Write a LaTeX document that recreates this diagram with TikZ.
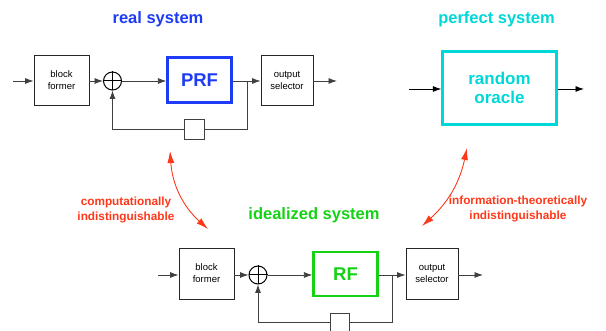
\documentclass[tikz,border=0pt]{standalone}
\usepackage{fontspec}
\setmainfont{Liberation Sans}
\usetikzlibrary{arrows.meta}
\definecolor{sysblue}{RGB}{30,60,245}
\definecolor{syscyan}{RGB}{0,215,215}
\definecolor{sysgreen}{RGB}{20,210,20}
\definecolor{sysred}{RGB}{255,55,25}
\tikzset{
  blk/.style={draw=black!85, line width=0.9pt, minimum width=#1, inner sep=0pt, align=center,
              font=\fontsize{9.5}{12}\selectfont},
  blk/.default=55pt,
  flow/.style={draw=black!75, line width=0.8pt, -{Latex[length=8.5pt,width=6pt]}},
  wire/.style={draw=black!75, line width=0.8pt},
  xorc/.style={draw=black, line width=1pt, circle, minimum size=18pt, inner sep=0pt},
  delay/.style={draw=black!75, line width=0.8pt, minimum size=20pt, inner sep=0pt, fill=white},
  title/.style={font=\fontsize{16.5}{18}\selectfont\bfseries},
  fbox/.style={line width=2.2pt, inner sep=0pt, font=\fontsize{18.5}{20}\selectfont\bfseries},
  rel/.style={draw=sysred, line width=0.9pt, {Latex[length=12pt,width=7pt]}-{Latex[length=12pt,width=7pt]}},
  rellabel/.style={text=sysred, align=center, font=\fontsize{11.8}{15}\selectfont\bfseries}
}
\begin{document}
\begin{tikzpicture}[x=1pt,y=-1pt]
\useasboundingbox (0,0) rectangle (606,331);

% ---- real system ----
\node[title, text=sysblue] (t1) at (158,19) {real system};
\coordinate (in1) at (13,81);
\node[blk, minimum height=50pt] (bf1) at (61.5,80) {block\\former};
\node[xorc] (x1) at (112.5,81) {};
\node[fbox, draw=sysblue, minimum width=64pt, minimum height=45pt, text=sysblue] (f1) at (199.5,80) {PRF};
\node[blk, minimum width=52pt, minimum height=50pt] (os1) at (287,80) {output\\selector};
\coordinate (out1) at (337,81);
\coordinate (j1) at (247,81);
\coordinate (c1a) at (247,129);
\coordinate (c1b) at (112.5,129);
\node[delay] (d1) at (194,129) {};
\draw[flow] (in1) -- (bf1.west |- in1);
\draw[flow] (bf1.east |- in1) -- (x1.west);
\draw[flow] (x1.east) -- (f1.west |- x1);
\draw[wire] (f1.east |- j1) -- (j1);
\draw[flow] (j1) -- (os1.west |- j1);
\draw[flow] (os1.east |- out1) -- (out1);
\draw[wire] (j1) -- (c1a) -- (d1.east);
\draw[flow] (d1.west) -- (c1b) -- (x1.south);
\draw[line width=1pt] (x1.north) -- (x1.south) (x1.west) -- (x1.east);

% ---- perfect system ----
\node[title, text=syscyan] (t2) at (496.5,19) {perfect system};
\node[draw=syscyan, line width=2.4pt, minimum width=114pt, minimum height=73pt, inner sep=0pt,
      text=syscyan, align=center, font=\fontsize{17}{18.5}\selectfont\bfseries] (ro) at (499.5,88) {random\\oracle};
\coordinate (in2) at (409,89);
\coordinate (out2) at (584,89);
\draw[flow, draw=black] (in2) -- (ro.west |- in2);
\draw[flow, draw=black] (ro.east |- out2) -- (out2);

% ---- idealized system ----
\node[title, text=sysgreen] (t3) at (314,215) {idealized system};
\coordinate (in3) at (158,275);
\node[blk, minimum height=51pt] (bf3) at (206.5,273.5) {block\\former};
\node[xorc] (x3) at (258,275) {};
\node[fbox, draw=sysgreen, minimum width=64pt, minimum height=44pt, text=sysgreen] (f3) at (345.5,274) {RF};
\node[blk, minimum width=52pt, minimum height=51pt] (os3) at (432,273.5) {output\\selector};
\coordinate (out3) at (483,275);
\coordinate (j3) at (392,275);
\coordinate (c3a) at (392,322);
\coordinate (c3b) at (258,322);
\node[delay, minimum width=19pt] (d3) at (339.5,323) {};
\draw[flow] (in3) -- (bf3.west |- in3);
\draw[flow] (bf3.east |- in3) -- (x3.west);
\draw[flow] (x3.east) -- (f3.west |- x3);
\draw[wire] (f3.east |- j3) -- (j3);
\draw[flow] (j3) -- (os3.west |- j3);
\draw[flow] (os3.east |- out3) -- (out3);
\draw[wire] (j3) -- (c3a) -- (d3.east |- c3a);
\draw[flow] (d3.west |- c3b) -- (c3b) -- (x3.south);
\draw[line width=1pt] (x3.north) -- (x3.south) (x3.west) -- (x3.east);

% ---- relations between the systems ----
\coordinate (r1a) at (170,151);
\coordinate (r1b) at (208,229);
\draw[rel] (r1a) to[bend right=22] (r1b);
\node[rellabel] (l1) at (126,210) {computationally\\indistinguishable};
\coordinate (r2a) at (467,148);
\coordinate (r2b) at (422,226);
\draw[rel] (r2a) to[bend left=18] (r2b);
\node[rellabel] (l2) at (518,209) {information-theoretically\\indistinguishable};
\end{tikzpicture}
\end{document}
